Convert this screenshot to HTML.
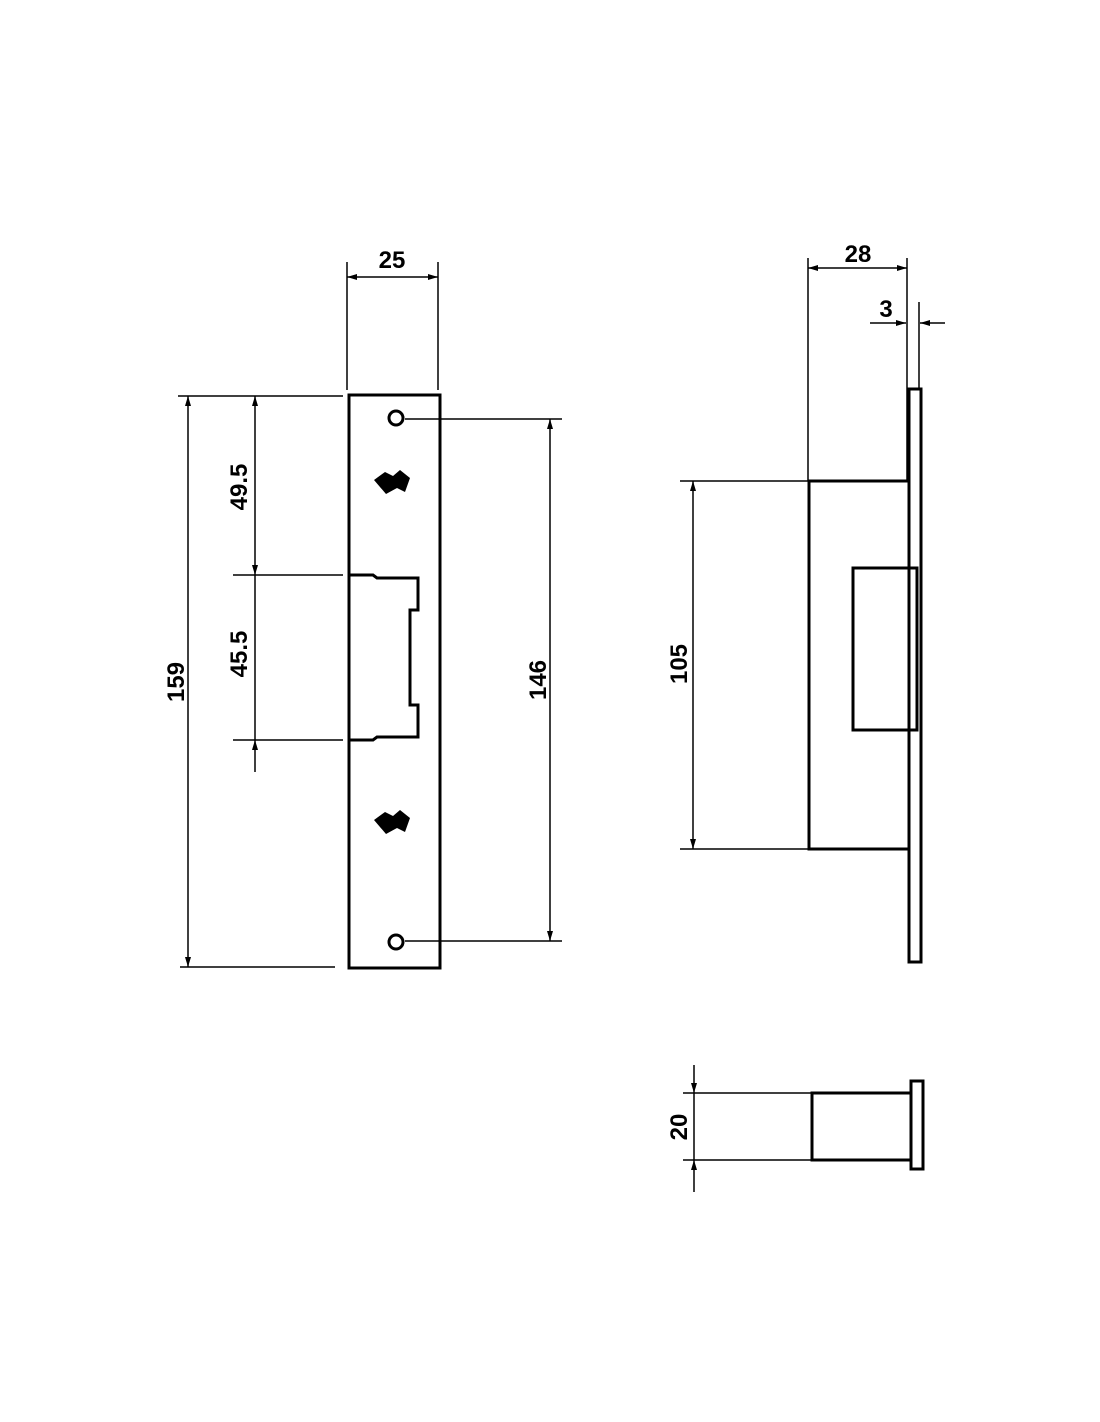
<!DOCTYPE html>
<html><head><style>body{margin:0;background:#fff}svg{display:block}</style></head><body>
<svg width="1100" height="1422" viewBox="0 0 1100 1422" xmlns="http://www.w3.org/2000/svg">
<defs><marker id="a" viewBox="0 0 10 6" refX="10" refY="3" markerWidth="10" markerHeight="6" orient="auto-start-reverse" markerUnits="userSpaceOnUse"><path d="M0,0 L10,3 L0,6 z" fill="#000"/></marker></defs>
<g fill="none" stroke="#000" stroke-width="1.5">
<rect x="349" y="395" width="91" height="573" stroke-width="3"/>
<path d="M350,575 H373 L377,578 H418 V610 H410 V705 H418 V737 H377 L373,740 H350" stroke-width="3"/>
<circle cx="396" cy="418" r="7" stroke-width="3"/>
<circle cx="396" cy="942" r="7" stroke-width="3"/>
<line x1="405" y1="419" x2="562" y2="419"/>
<line x1="405" y1="941" x2="562" y2="941"/>
<line x1="550" y1="419" x2="550" y2="941" marker-start="url(#a)" marker-end="url(#a)"/>
<line x1="178" y1="396" x2="343" y2="396"/>
<line x1="180" y1="967" x2="335" y2="967"/>
<line x1="188" y1="396" x2="188" y2="967" marker-start="url(#a)" marker-end="url(#a)"/>
<line x1="233" y1="575" x2="343" y2="575"/>
<line x1="233" y1="740" x2="343" y2="740"/>
<line x1="255" y1="396" x2="255" y2="575" marker-start="url(#a)" marker-end="url(#a)"/>
<line x1="255" y1="575" x2="255" y2="740"/>
<line x1="255" y1="740" x2="255" y2="772" marker-start="url(#a)"/>
<line x1="347" y1="262" x2="347" y2="390"/>
<line x1="438" y1="262" x2="438" y2="390"/>
<line x1="347" y1="277" x2="438" y2="277" marker-start="url(#a)" marker-end="url(#a)"/>
<line x1="808" y1="258" x2="808" y2="481"/>
<line x1="907" y1="258" x2="907" y2="480"/>
<line x1="919" y1="302" x2="919" y2="388"/>
<line x1="808" y1="268" x2="907" y2="268" marker-start="url(#a)" marker-end="url(#a)"/>
<line x1="870" y1="323" x2="906" y2="323" marker-end="url(#a)"/>
<line x1="945" y1="323" x2="920" y2="323" marker-end="url(#a)"/>
<rect x="909" y="389" width="12" height="573" stroke-width="3"/>
<path d="M909,481 H809 V849 H909" stroke-width="3"/>
<rect x="853" y="568" width="64" height="162" stroke-width="3"/>
<line x1="680" y1="481" x2="808" y2="481"/>
<line x1="680" y1="849" x2="808" y2="849"/>
<line x1="693" y1="481" x2="693" y2="849" marker-start="url(#a)" marker-end="url(#a)"/>
<rect x="911" y="1081" width="12" height="88" stroke-width="3"/>
<rect x="812" y="1093" width="99" height="67" stroke-width="3"/>
<line x1="683" y1="1093" x2="812" y2="1093"/>
<line x1="683" y1="1160" x2="812" y2="1160"/>
<line x1="694" y1="1065" x2="694" y2="1093" marker-end="url(#a)"/>
<line x1="694" y1="1093" x2="694" y2="1160"/>
<line x1="694" y1="1192" x2="694" y2="1160" marker-end="url(#a)"/>
</g>
<g fill="#000">
<path d="M374,480 L385,472 L393,476 L400,470 L410,478 L405,492 L397,488 L386,494 Z"/>
<path d="M374,820 L385,812 L393,816 L400,810 L410,818 L405,832 L397,828 L386,834 Z"/>
</g>
<g font-family="Liberation Sans, sans-serif" font-weight="bold" font-size="24" text-anchor="middle">
<text x="392" y="268">25</text>
<text x="858" y="262">28</text>
<text x="886" y="317">3</text>
<text transform="translate(184,682) rotate(-90)">159</text>
<text transform="translate(247,487) rotate(-90)">49.5</text>
<text transform="translate(247,654) rotate(-90)">45.5</text>
<text transform="translate(546,680) rotate(-90)">146</text>
<text transform="translate(687,664) rotate(-90)">105</text>
<text transform="translate(687,1127) rotate(-90)">20</text>
</g>
</svg>
</body></html>
